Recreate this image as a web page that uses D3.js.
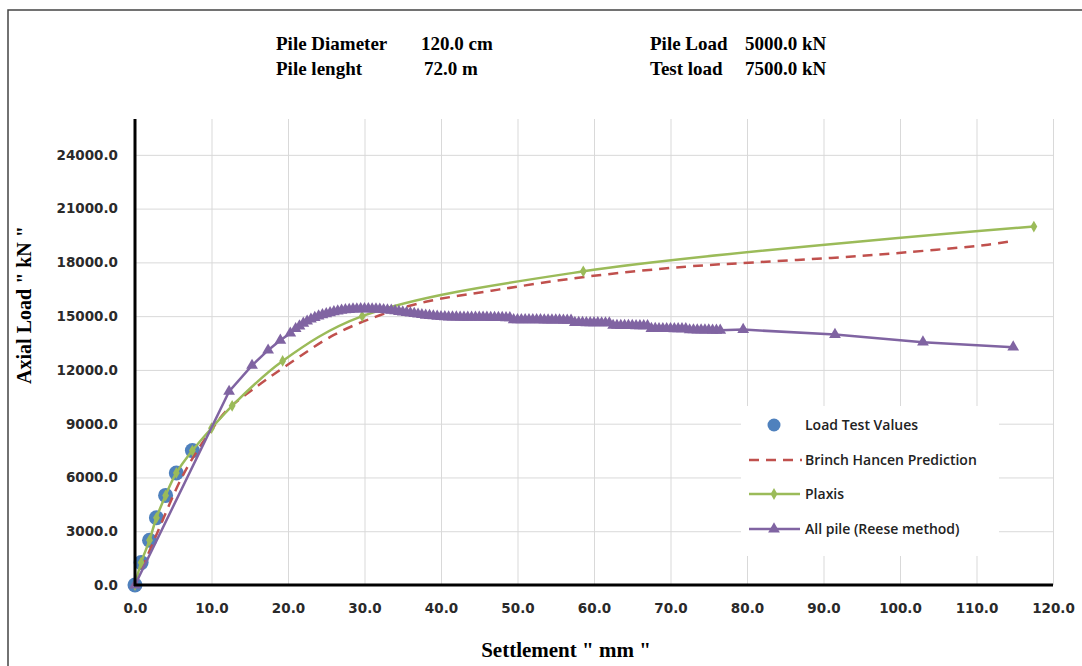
<!DOCTYPE html>
<html>
<head>
<meta charset="utf-8">
<script src="https://cdn.jsdelivr.net/npm/d3@7"></script>
<style>
  body { margin: 0; background: #fff; }
  svg { display: block; }
</style>
</head>
<body>
<div id="chart"></div>
<script>
// ---------------------------------------------------------------- data
var headerLeft = [["Pile Diameter", "120.0 cm"], ["Pile lenght", "72.0 m"]];
var headerRight = [["Pile Load", "5000.0 kN"], ["Test load", "7500.0 kN"]];

var xTicks = [0, 10, 20, 30, 40, 50, 60, 70, 80, 90, 100, 110, 120];
var yTicks = [0, 3000, 6000, 9000, 12000, 15000, 18000, 21000, 24000];

// Load test values
var testX = [0, 0.8, 1.9, 2.8, 4.0, 5.4, 7.5];
var testLoad = [0, 1250, 2500, 3750, 5000, 6250, 7500];

// Brinch Hansen prediction
var brinchX = [0, 3, 6, 8, 10, 12, 16, 20, 26, 32, 38, 47.5, 59, 72, 81, 91, 100.5, 111.5, 114.8];
var brinchLoad = [0, 3000, 5900, 7400, 8650, 9750, 11100, 12300, 13950, 15050, 15800, 16480, 17200, 17760, 18000, 18250, 18550, 18990, 19200];

// Plaxis
var plaxisX = [0, 0.8, 1.9, 2.8, 4.0, 5.4, 7.5, 10.0, 12.7, 19.3, 29.7, 58.6, 117.5];
var plaxisLoad = [0, 1250, 2500, 3750, 5000, 6250, 7500, 8750, 10000, 12500, 15000, 17500, 20000];

// All pile (Reese method)
var reeseX = [0, 12.3, 15.3, 17.4, 19.0, 20.3,
  21.0, 21.5, 22.0, 22.5, 23.0, 23.5, 24.0, 24.5, 25.0, 25.5, 26.0, 26.5, 27.0, 27.5, 28.0, 28.5, 29.0, 29.5, 30.0,
  30.5, 31.0, 31.5, 32.0, 32.5, 33.0, 33.5, 34.0, 34.5, 35.0, 35.5, 36.0, 36.5, 37.0, 37.5, 38.0, 38.5, 39.0, 39.5, 40.0,
  40.5, 41.0, 41.5, 42.0, 42.5, 43.0, 43.5, 44.0, 44.5, 45.0, 45.5, 46.0, 46.5, 47.0, 47.5, 48.0, 48.5, 49.0,
  49.5, 50.0, 50.5, 51.0, 51.5, 52.0, 52.5, 53.0, 53.5, 54.0, 54.5, 55.0, 55.5, 56.0, 56.5, 57.0,
  57.5, 58.0, 58.5, 59.0, 59.5, 60.0, 60.5, 61.0, 61.5, 62.0,
  62.5, 63.0, 63.5, 64.0, 64.5, 65.0, 65.5, 66.0, 66.5, 67.0,
  67.5, 68.0, 68.5, 69.0, 69.5, 70.0, 70.5, 71.0, 71.5, 72.0,
  72.5, 73.0, 73.5, 74.0, 74.5, 75.0, 75.5, 76.0, 76.5,
  79.5, 91.5, 103.0, 114.8];
var reeseLoad = [0, 10800, 12250, 13100, 13650, 14050,
  14300, 14450, 14600, 14720, 14830, 14920, 15000, 15070, 15130, 15190, 15240, 15280, 15320, 15350, 15370, 15390, 15400, 15410, 15410,
  15410, 15400, 15390, 15380, 15360, 15340, 15320, 15290, 15260, 15230, 15200, 15170, 15140, 15110, 15080, 15050, 15030, 15010, 14990, 14970,
  14960, 14950, 14950, 14950, 14940, 14940, 14940, 14940, 14930, 14930, 14930, 14930, 14920, 14920, 14920, 14920, 14910, 14910,
  14800, 14800, 14800, 14790, 14790, 14790, 14790, 14790, 14780, 14780, 14780, 14780, 14780, 14770, 14770, 14770,
  14640, 14640, 14640, 14630, 14630, 14630, 14630, 14620, 14620, 14620,
  14480, 14480, 14470, 14470, 14470, 14470, 14460, 14460, 14460, 14460,
  14310, 14310, 14300, 14300, 14300, 14300, 14290, 14290, 14290, 14290,
  14230, 14230, 14220, 14220, 14220, 14220, 14210, 14210, 14210,
  14250, 13970, 13550, 13270];

var legendNames = ["Load Test Values", "Brinch Hancen Prediction", "Plaxis", "All pile (Reese method)"];

// ---------------------------------------------------------------- setup
var W = 1082, H = 666;
var colBlue = "#4F81BD", colRed = "#C0504D", colGreen = "#9BBB59", colPurple = "#8064A2";

function zip(xs, ys) { return xs.map(function(d, i) { return { x: d, y: ys[i] }; }); }
var testData = zip(testX, testLoad);
var brinchData = zip(brinchX, brinchLoad);
var plaxisData = zip(plaxisX, plaxisLoad);
var reeseData = zip(reeseX, reeseLoad);

var svg = d3.select("#chart").append("svg")
  .attr("width", W)
  .attr("height", H);

svg.append("rect").attr("width", W).attr("height", H).attr("fill", "#fff");

// outer frame
svg.append("rect")
  .attr("x", 8).attr("y", 10)
  .attr("width", W + 10).attr("height", H + 10)
  .attr("fill", "none")
  .attr("stroke", "#444")
  .attr("stroke-width", 1.5);

var x = d3.scaleLinear().domain([0, 120]).range([135, 1053]);
var y = d3.scaleLinear().domain([0, 26000]).range([585, 119]);

///////////////////////////////////////// header
var serif = "'Liberation Serif', 'Times New Roman', serif";
function header(rows, x1, x2) {
  rows.forEach(function(r, i) {
    svg.append("text").attr("x", x1).attr("y", 50 + i * 25)
      .attr("font-family", serif).attr("font-weight", "bold").attr("font-size", 19)
      .text(r[0]);
    svg.append("text").attr("x", x2 + (i === 1 && x1 < 400 ? 3 : 0)).attr("y", 50 + i * 25)
      .attr("font-family", serif).attr("font-weight", "bold").attr("font-size", 19)
      .text(r[1]);
  });
}
header(headerLeft, 276, 421);
header(headerRight, 650, 745);

///////////////////////////////////////// grid
svg.append("g")
  .attr("transform", "translate(0,585)")
  .call(d3.axisBottom(x).tickValues(xTicks.slice(1)).tickSize(-(585 - 119)).tickFormat(""))
  .call(function(g) {
    g.select(".domain").remove();
    g.selectAll("line").attr("stroke", "#d9d9d9").attr("stroke-width", 1);
  });

svg.append("g")
  .attr("transform", "translate(135,0)")
  .call(d3.axisLeft(y).tickValues(yTicks.slice(1)).tickSize(-(1053 - 135)).tickFormat(""))
  .call(function(g) {
    g.select(".domain").remove();
    g.selectAll("line").attr("stroke", "#d9d9d9").attr("stroke-width", 1);
  });

///////////////////////////////////////// axes
var tickFont = "'DejaVu Sans', sans-serif";
var xAxis = svg.append("g")
  .attr("transform", "translate(0,585)")
  .call(d3.axisBottom(x).tickValues(xTicks).tickSize(0).tickPadding(18).tickFormat(d3.format(".1f")));
xAxis.select(".domain").remove();
xAxis.selectAll("text").attr("font-family", tickFont).attr("font-weight", "bold")
  .attr("font-size", 13.5).attr("fill", "#2a2a2a");

var yAxis = svg.append("g")
  .attr("transform", "translate(135,0)")
  .call(d3.axisLeft(y).tickValues(yTicks).tickSize(0).tickPadding(17).tickFormat(d3.format(".1f")));
yAxis.select(".domain").remove();
yAxis.selectAll("text").attr("font-family", tickFont).attr("font-weight", "bold")
  .attr("font-size", 13.5).attr("fill", "#2a2a2a");

// axis titles
svg.append("text")
  .attr("transform", "translate(31,305) rotate(-90)")
  .attr("text-anchor", "middle")
  .attr("font-family", serif).attr("font-weight", "bold").attr("font-size", 20)
  .text("Axial Load \" kN \"");

svg.append("text")
  .attr("x", 566).attr("y", 657)
  .attr("text-anchor", "middle")
  .attr("font-family", serif).attr("font-weight", "bold").attr("font-size", 21)
  .text("Settlement \" mm \"");

///////////////////////////////////////// series
var smooth = d3.line().x(function(d) { return x(d.x); }).y(function(d) { return y(d.y); })
  .curve(d3.curveCatmullRom.alpha(0.5));
var straight = d3.line().x(function(d) { return x(d.x); }).y(function(d) { return y(d.y); });

// load test circles
svg.append("g").selectAll("circle")
  .data(testData).enter().append("circle")
  .attr("cx", function(d) { return x(d.x); })
  .attr("cy", function(d) { return y(d.y); })
  .attr("r", 7.5)
  .attr("fill", colBlue);

// Brinch Hansen
svg.append("path")
  .datum(brinchData)
  .attr("fill", "none")
  .attr("stroke", colRed)
  .attr("stroke-width", 2.5)
  .attr("stroke-dasharray", "10,7")
  .attr("d", smooth);

// Plaxis
svg.append("path")
  .datum(plaxisData)
  .attr("fill", "none")
  .attr("stroke", colGreen)
  .attr("stroke-width", 2.5)
  .attr("d", smooth);

var diamond = d3.symbol().type(d3.symbolDiamond).size(40);
svg.append("g").selectAll("path")
  .data(plaxisData).enter().append("path")
  .attr("transform", function(d) { return "translate(" + x(d.x) + "," + y(d.y) + ")"; })
  .attr("d", diamond)
  .attr("fill", colGreen);

// Reese
svg.append("path")
  .datum(reeseData)
  .attr("fill", "none")
  .attr("stroke", colPurple)
  .attr("stroke-width", 2.5)
  .attr("d", straight);

var tri = d3.symbol().type(d3.symbolTriangle).size(60);
svg.append("g").selectAll("path")
  .data(reeseData).enter().append("path")
  .attr("transform", function(d) { return "translate(" + x(d.x) + "," + y(d.y) + ")"; })
  .attr("d", tri)
  .attr("fill", colPurple);

// axis lines on top
svg.append("line").attr("x1", 135).attr("x2", 135).attr("y1", 119).attr("y2", 586)
  .attr("stroke", "#000").attr("stroke-width", 3);
svg.append("line").attr("x1", 134).attr("x2", 1053).attr("y1", 585).attr("y2", 585)
  .attr("stroke", "#000").attr("stroke-width", 3);

///////////////////////////////////////// legend
var leg = svg.append("g");
leg.append("rect").attr("x", 741).attr("y", 406).attr("width", 258).attr("height", 150).attr("fill", "#fff");

var legRows = [425, 460, 494, 529];
var legFont = "'Open Sans', sans-serif";
legendNames.forEach(function(name, i) {
  leg.append("text").attr("x", 805).attr("y", legRows[i]).attr("dy", "0.35em")
    .attr("font-family", legFont).attr("font-weight", 600).attr("font-size", 14)
    .attr("fill", "#222")
    .text(name);
});
leg.append("circle").attr("cx", 774).attr("cy", legRows[0]).attr("r", 6.5).attr("fill", colBlue);
leg.append("line").attr("x1", 749).attr("x2", 802).attr("y1", legRows[1]).attr("y2", legRows[1])
  .attr("stroke", colRed).attr("stroke-width", 2.5).attr("stroke-dasharray", "10,7");
leg.append("line").attr("x1", 749).attr("x2", 800).attr("y1", legRows[2]).attr("y2", legRows[2])
  .attr("stroke", colGreen).attr("stroke-width", 2.5);
leg.append("path").attr("transform", "translate(774," + legRows[2] + ")").attr("d", diamond).attr("fill", colGreen);
leg.append("line").attr("x1", 749).attr("x2", 800).attr("y1", legRows[3]).attr("y2", legRows[3])
  .attr("stroke", colPurple).attr("stroke-width", 2.5);
leg.append("path").attr("transform", "translate(774," + legRows[3] + ")").attr("d", tri).attr("fill", colPurple);
</script>
</body>
</html>
